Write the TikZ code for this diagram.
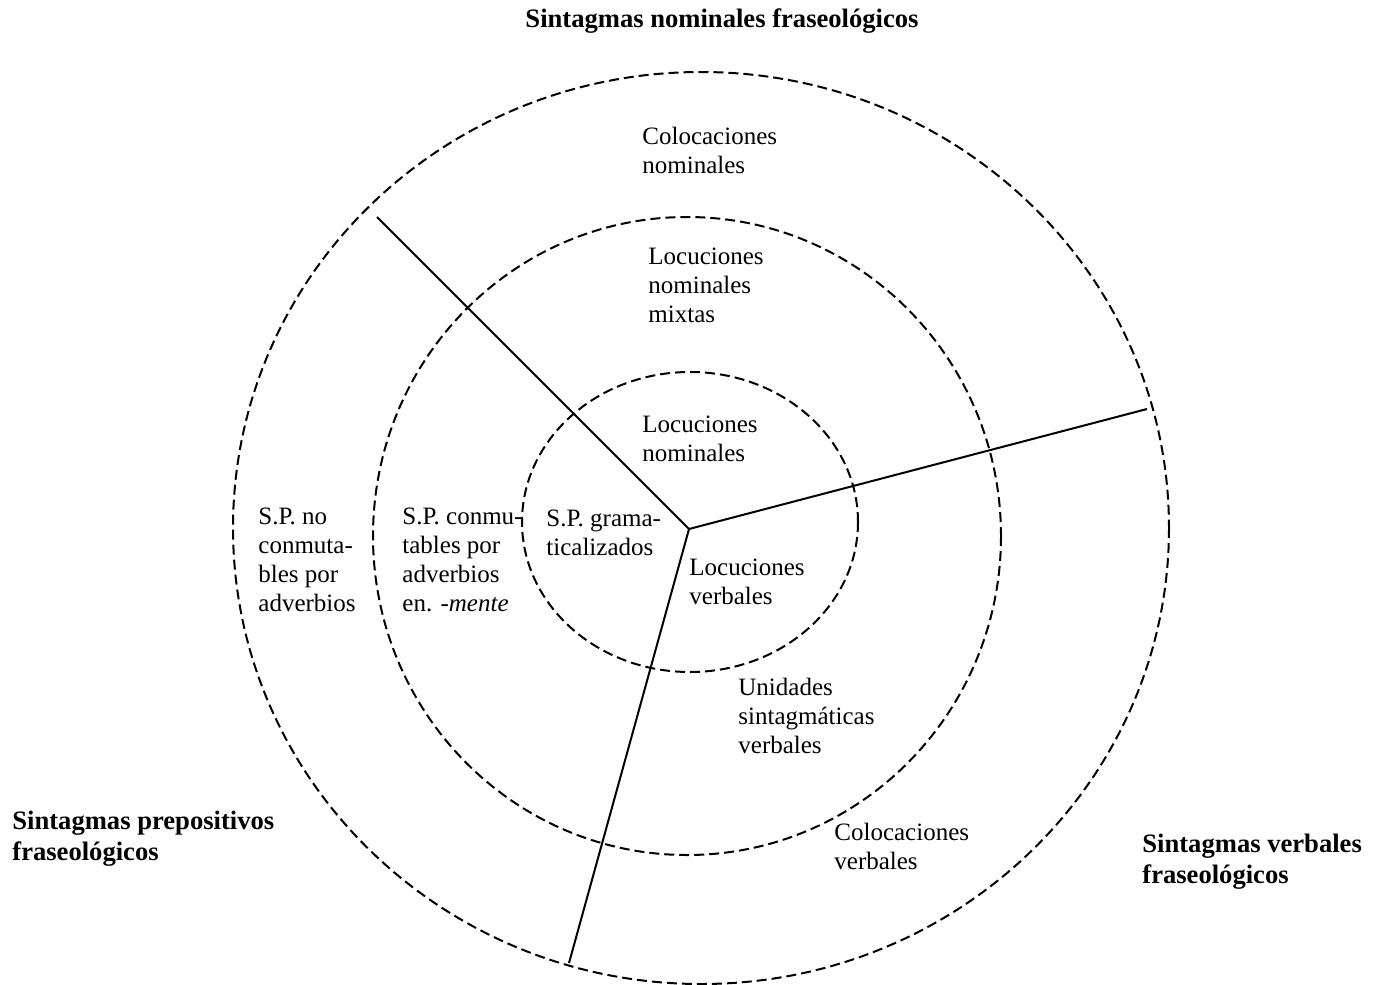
\documentclass[tikz,border=0pt]{standalone}
\usepackage{fontspec}
\setmainfont{Liberation Serif}
\usepackage{tikz}

\tikzset{
  ring/.style={dashed, line width=1pt, dash pattern=on 5pt off 2.5pt},
  divider/.style={line width=1pt},
  lbl/.style={anchor=base west, inner sep=0pt, align=left, font=\fontsize{12.5}{14.4}\selectfont},
  group/.style={anchor=base west, inner sep=0pt, align=left, font=\fontsize{13.3}{15.5}\selectfont\bfseries}
}

\begin{document}
\begin{tikzpicture}[x=0.5pt, y=-0.5pt]
  \useasboundingbox (0,0) rectangle (1376,985);
  % the three rings
  \draw[ring] (701,528) ellipse [x radius=468, y radius=456];
  \draw[ring] (687,536) ellipse [x radius=314, y radius=319];
  \draw[ring] (690,522) ellipse [x radius=168, y radius=150];
  % the three sectors
  \coordinate (c) at (689,529);
  \coordinate (nw) at (377,217);
  \coordinate (e) at (1147,409);
  \coordinate (s) at (569,963);
  \draw[divider] (c) -- (nw);
  \draw[divider] (c) -- (e);
  \draw[divider] (c) -- (s);
  % labels (base = last line)
  \node[group, anchor=base] (nomgroup) at (722,27) {Sintagmas nominales fraseológicos};
  \node[group] (prepgroup) at (12,860) {Sintagmas prepositivos\\fraseológicos};
  \node[group] (verbgroup) at (1142,883) {Sintagmas verbales\\fraseológicos};
  \node[lbl] (colnom) at (642,173) {Colocaciones\\nominales};
  \node[lbl] (locmix) at (648,322) {Locuciones\\nominales\\mixtas};
  \node[lbl] (locnom) at (642,461) {Locuciones\\nominales};
  \node[lbl] (spno) at (258,611) {S.P. no\\conmuta-\\bles por\\adverbios};
  \node[lbl] (spconm) at (402,611) {S.P. conmu-\\tables por\\adverbios\\en. \textit{-mente}};
  \node[lbl] (spgram) at (546,555) {S.P. grama-\\ticalizados};
  \node[lbl] (locverb) at (689,604) {Locuciones\\verbales};
  \node[lbl] (unid) at (738,753) {Unidades\\sintagmáticas\\verbales};
  \node[lbl] (colverb) at (834,869) {Colocaciones\\verbales};
\end{tikzpicture}
\end{document}
